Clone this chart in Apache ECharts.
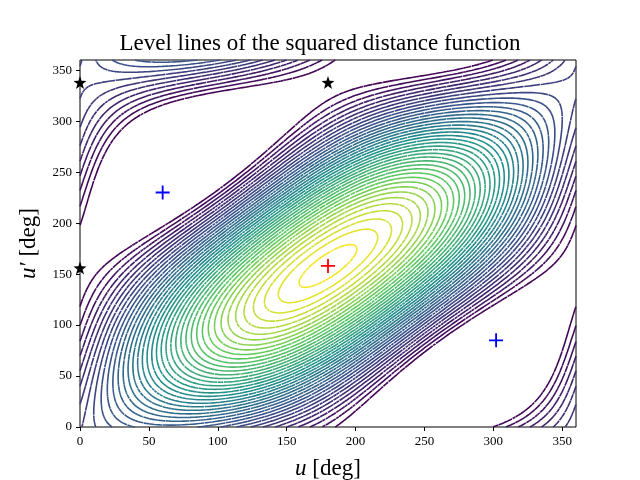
<!DOCTYPE html>
<html><head><meta charset="utf-8">
<script src="https://cdn.jsdelivr.net/npm/echarts@6/dist/echarts.min.js"></script>
<style>html,body{margin:0;padding:0;background:#fff}#c{width:640px;height:480px}</style>
</head><body><div id="c"></div>
<script>
// Tick labels
var xTicks = [0, 50, 100, 150, 200, 250, 300, 350];
var yTicks = [0, 50, 100, 150, 200, 250, 300, 350];
// Markers
var minimumPts = [[180, 158]];
var saddlePts = [[60, 230], [302, 85]];
var maximumPts = [[0, 338], [180, 338], [0, 156]];
// Model of the squared distance: centre (u0, v0) and coefficients [A, B, C, E, F]
var centre = [180, 158];
var coeffs = [1.75, 0.5, 0.5, 0.75, 1.0];
var levelCount = 40;
var levelTopFraction = 0.855;
var gridStep = 2;

function f(u, v) {
  var a = (u - centre[0]) * Math.PI / 180, b = (v - centre[1]) * Math.PI / 180;
  return coeffs[0] - coeffs[1]*Math.cos(a) - coeffs[2]*Math.cos(b) - coeffs[3]*Math.cos(a)*Math.cos(b) - coeffs[4]*Math.sin(a)*Math.sin(b);
}
var N = 360 / gridStep, Z = [], fmin = Infinity, fmax = -Infinity;
for (var i = 0; i <= N; i++) { Z.push([]); for (var j = 0; j <= N; j++) { var z = f(i*gridStep, j*gridStep); Z[i].push(z); fmin = Math.min(fmin, z); fmax = Math.max(fmax, z); } }
var vir = [[0,[68,1,84]],[0.25,[59,82,139]],[0.5,[33,145,140]],[0.75,[94,201,98]],[1,[253,231,37]]];
function viridis(t){ for (var k=1;k<vir.length;k++){ if(t<=vir[k][0]){ var a=vir[k-1],b=vir[k],s=(t-a[0])/(b[0]-a[0]); return 'rgb('+[0,1,2].map(function(c){return Math.round(a[1][c]+s*(b[1][c]-a[1][c]));}).join(',')+')'; } } return 'rgb(253,231,37)'; }
var series = [];
var levTop = fmin + (fmax - fmin) * levelTopFraction;
for (var L = 0; L < levelCount; L++) {
  var lev = fmin + (levTop - fmin) * (L + 0.5) / levelCount;
  var data = [];
  for (var i = 0; i < N; i++) for (var j = 0; j < N; j++) {
    var x0 = i*gridStep, y0 = j*gridStep, g = gridStep;
    var c = [Z[i][j], Z[i+1][j], Z[i+1][j+1], Z[i][j+1]];
    var p = [[x0,y0],[x0+g,y0],[x0+g,y0+g],[x0,y0+g]];
    var pts = [];
    for (var e = 0; e < 4; e++) {
      var a = c[e], b = c[(e+1)%4];
      if ((a < lev) !== (b < lev)) { var t = (lev - a)/(b - a); var pa=p[e], pb=p[(e+1)%4]; pts.push([pa[0]+t*(pb[0]-pa[0]), pa[1]+t*(pb[1]-pa[1])]); }
    }
    for (var k = 0; k + 1 < pts.length; k += 2) { data.push(pts[k], pts[k+1], ['-','-']); }
  }
  series.push({ type:'line', data:data, showSymbol:false, symbol:'none', connectNulls:false, silent:true, animation:false,
    lineStyle:{ width:1.6, color: viridis(1 - (L + 0.5)/levelCount) } });
}
var plus = 'path://M-1.3,-10H1.3V10H-1.3Z M-10,-1.3H10V1.3H-10Z';
var star = 'path://M0,-10 L2.35,-3.24 9.51,-3.09 3.8,1.24 5.88,8.09 0,4 -5.88,8.09 -3.8,1.24 -9.51,-3.09 -2.35,-3.24Z';
series.push({ type:'scatter', data:minimumPts, symbol:plus, symbolSize:14, itemStyle:{color:'#ff0000', opacity:1}, z:10, animation:false });
series.push({ type:'scatter', data:saddlePts, symbol:plus, symbolSize:14, itemStyle:{color:'#0000ff', opacity:1}, z:10, animation:false });
series.push({ type:'scatter', data:maximumPts, symbol:star, symbolSize:13, itemStyle:{color:'#000', opacity:1}, z:10, animation:false });

var serif = 'Liberation Serif';
var chart = echarts.init(document.getElementById('c'));
chart.setOption({
  animation:false,
  title:{ text:'Level lines of the squared distance function', left:'center', top:27, textStyle:{ fontFamily:serif, fontSize:23, fontWeight:'normal', color:'#000' } },
  grid:{ left:80, right:64, top:60, bottom:53, outerBoundsMode:'none', containLabel:false, show:true, borderColor:'#000', borderWidth:1, backgroundColor:'transparent' },
  xAxis:{ type:'value', min:0, max:360, interval:50, splitLine:{show:false},
    axisLine:{show:false}, axisTick:{show:true, inside:false, length:4, lineStyle:{color:'#000'}},
    axisLabel:{ color:'#000', fontFamily:serif, fontSize:13, showMaxLabel:false, formatter:function(v){return xTicks.indexOf(v)>=0?String(v):'';} },
    name:'{i|u} [deg]', nameLocation:'middle', nameGap:30, nameTextStyle:{ fontFamily:serif, fontSize:23, color:'#000', rich:{ i:{fontFamily:serif, fontStyle:'italic', fontSize:23} } } },
  yAxis:{ type:'value', min:0, max:360, interval:50, splitLine:{show:false},
    axisLine:{show:false}, axisTick:{show:true, inside:false, length:4, lineStyle:{color:'#000'}},
    axisLabel:{ color:'#000', fontFamily:serif, fontSize:13, showMaxLabel:false, formatter:function(v){return yTicks.indexOf(v)>=0?String(v):'';} },
    name:'{i|u′} [deg]', nameLocation:'middle', nameGap:40, nameRotate:90, nameTextStyle:{ fontFamily:serif, fontSize:23, color:'#000', rich:{ i:{fontFamily:serif, fontStyle:'italic', fontSize:23} } } },
  series:series
});
</script></body></html>
